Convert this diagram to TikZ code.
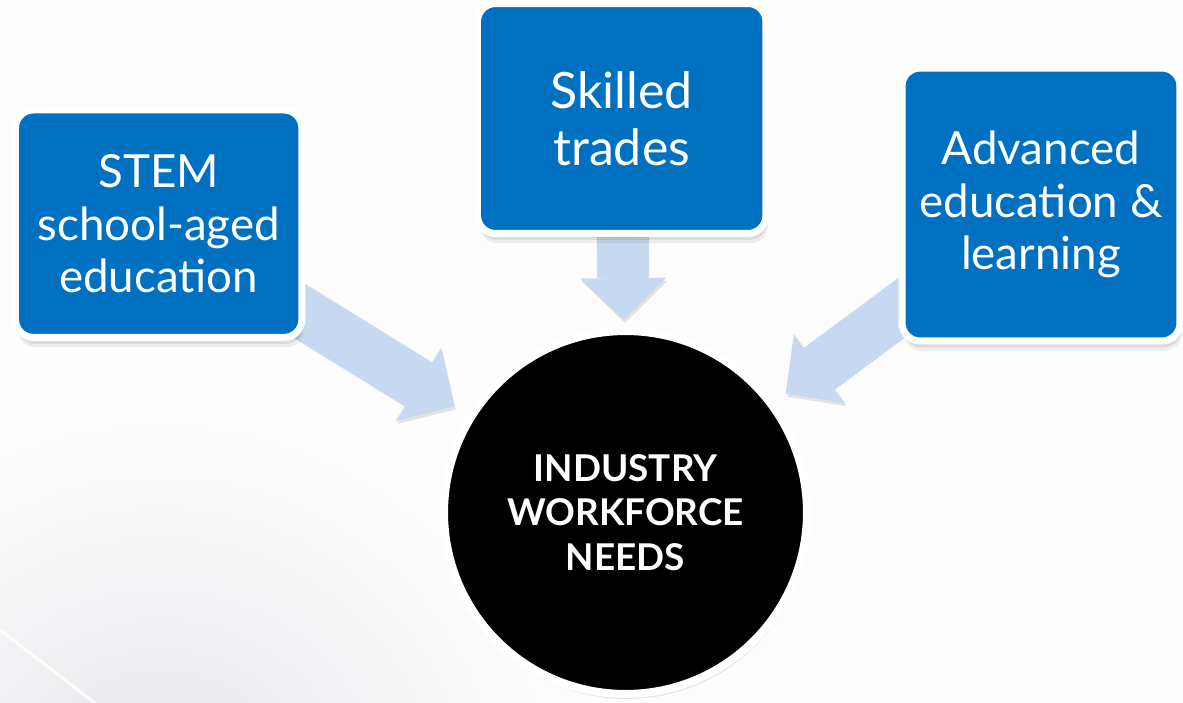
\documentclass[tikz,border=0pt]{standalone}
\usepackage{fontspec}
\setmainfont{Lato}
\usetikzlibrary{arrows.meta}

\definecolor{boxblue}{HTML}{0070C0}
\definecolor{arrowblue}{HTML}{C6D9F1}
\definecolor{bgwhite}{HTML}{FDFDFD}
\definecolor{bggray}{HTML}{E3E4E8}

\pgfdeclarelayer{background}
\pgfdeclarelayer{arrows}
\pgfsetlayers{background,arrows,main}

\tikzset{
	softshadow/.style={
		preaction={fill=black, opacity=0.06, transform canvas={shift={(0.04cm,-0.2cm)}}},
		preaction={fill=black, opacity=0.08, transform canvas={shift={(0.03cm,-0.13cm)}}}},
	topicbox/.style={rectangle, rounded corners=0.36cm, fill=boxblue, draw=white, line width=0.14cm,
		text=white, align=center, font=\fontsize{26}{30}\selectfont, softshadow},
	needcircle/.style={circle, fill=black, draw=white, line width=0.16cm, inner sep=0pt,
		text=white, align=center, font=\bfseries\fontsize{21}{25.5}\selectfont,
		preaction={fill=black, opacity=0.1, transform canvas={shift={(0.03cm,-0.1cm)}}}},
	feedarrow/.style={arrowblue, line width=1.04cm,
		-{Triangle[width=1.72cm 0 0, length=0.84cm 0 0, line width=0pt 0 0]},
		preaction={draw=black, opacity=0.1, transform canvas={shift={(0.03cm,-0.06cm)}}}},
}

\begin{document}
\begin{tikzpicture}[x=0.02cm, y=-0.02cm]
	\useasboundingbox (0,0) rectangle (1183,703);
	
	\begin{pgfonlayer}{background}
		\fill[bgwhite] (0,0) rectangle (1183,703);
		\begin{scope}
			\clip (0,0) rectangle (1183,703);
			\shade[inner color=bggray, outer color=bgwhite] (160,820) circle (400);
		\end{scope}
		\draw[white, line width=0.06cm, opacity=0.8] (0,630) -- (95,703);
	\end{pgfonlayer}
	
	\node[topicbox, minimum width=5.73cm, minimum height=4.55cm] (stem) at (158.7,223.7) {STEM\\school-aged\\education};
	\node[topicbox, minimum width=5.77cm, minimum height=4.6cm, font=\fontsize{28.5}{32.3}\selectfont] (trades) at (621.7,118.5) {Skilled\\trades};
	\node[topicbox, minimum width=5.56cm, minimum height=5.46cm] (adv) at (1041,204.5) {Advanced\\education \&\\learning};
	\node[needcircle, minimum size=7.26cm] (need) at (625.5,512.5) {INDUSTRY\\WORKFORCE\\NEEDS};
	
	\begin{pgfonlayer}{arrows}
		\draw[feedarrow, shorten >=0.32cm] (stem.center) -- (need);
		\draw[feedarrow, shorten >=0.14cm] (trades.center) -- (need);
		\draw[feedarrow, shorten >=0.28cm] (adv.center) -- (need);
	\end{pgfonlayer}
	
\end{tikzpicture}
\end{document}
